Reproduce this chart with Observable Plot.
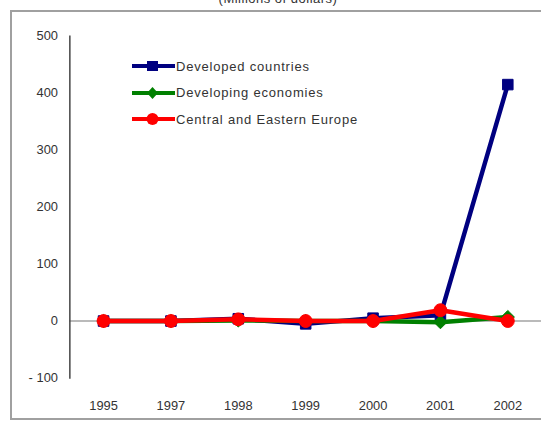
<!DOCTYPE html>
<html>
<head>
<meta charset="utf-8">
<script src="https://cdn.jsdelivr.net/npm/d3@7"></script>
<script src="https://cdn.jsdelivr.net/npm/@observablehq/plot@0.6"></script>
<style>
  html, body { margin: 0; padding: 0; background: #fff; overflow: hidden; }
  #wrap { position: relative; width: 541px; height: 421px; overflow: hidden; font-family: "Liberation Sans", Arial, sans-serif; }
  #subtitle { position: absolute; top: -8px; left: 0; width: 556px; text-align: center; font-size: 13px; line-height: 13px; color: #333; letter-spacing: 0.5px; }
  #border { position: absolute; left: 10px; top: 10px; width: 700px; height: 406px; border: 2px solid #a0a0a0; border-right: none; box-sizing: content-box; }
  #chart { position: absolute; left: 0; top: 0; }
  #legend { position: absolute; left: 131px; top: 53px; font-size: 13px; color: #333; letter-spacing: 0.8px; }
  #legend .row { display: flex; align-items: center; height: 26.5px; }
  #legend svg { margin-right: 1px; }
</style>
</head>
<body>
<div id="wrap">
  <div id="border"></div>
  <div id="subtitle">(Millions of dollars)</div>
  <div id="chart"></div>
  <div id="legend"></div>
</div>
<script>
// Inflows by region, millions of dollars
const years = ["1995", "1997", "1998", "1999", "2000", "2001", "2002"];
const developed = [0, 0, 4, -5, 5, 10, 415];
const developing = [0, 0, 1, 0, 0, -2, 7];
const centralEastern = [0, 0, 3, 0, 0, 19, 0];

const seriesNames = ["Developed countries", "Developing economies", "Central and Eastern Europe"];
const seriesValues = [developed, developing, centralEastern];
const seriesColors = ["#000080", "#008000", "#ff0000"];
const seriesSymbols = ["square", "diamond2", "circle"];
const yTicks = [-100, 0, 100, 200, 300, 400, 500];

const rows = seriesNames.flatMap((name, s) =>
  years.map((year, i) => ({ series: name, year, value: seriesValues[s][i] }))
);

const lineMarks = seriesNames.flatMap((name, s) => {
  const data = rows.filter(d => d.series === name);
  return [
    Plot.line(data, { x: "year", y: "value", stroke: seriesColors[s], strokeWidth: 4.5 }),
    Plot.dot(data, {
      x: "year", y: "value", symbol: () => seriesSymbols[s],
      fill: seriesColors[s], stroke: seriesColors[s],
      r: s === 2 ? 6.5 : 6, strokeWidth: 1
    })
  ];
});

const chart = Plot.plot({
  width: 546,
  height: 421,
  marginLeft: 70,
  marginRight: 0,
  marginTop: 36,
  marginBottom: 40,
  style: { fontFamily: "'Liberation Sans', Arial, sans-serif", fontSize: "13px", color: "#333", background: "transparent" },
  x: { type: "point", domain: years, padding: 0.5, label: null },
  y: { domain: [-100, 500], label: null },
  symbol: { type: "identity" },
  marks: [
    Plot.ruleY([0], { stroke: "#777", strokeWidth: 1.2 }),
    Plot.frame({ anchor: "left", stroke: "#444", strokeWidth: 1.5 }),
    Plot.axisY(yTicks, {
      tickSize: 0, tickPadding: 12,
      tickFormat: d => d < 0 ? "- " + Math.abs(d) : String(d)
    }),
    Plot.axisX({ tickSize: 0, tickPadding: 23, style: { letterSpacing: "2.4px" } }),
    ...lineMarks
  ]
});
document.getElementById("chart").appendChild(chart);

// Legend: line with marker, then series name
const legend = document.getElementById("legend");
seriesNames.forEach((name, s) => {
  const row = document.createElement("div");
  row.className = "row";
  const c = seriesColors[s];
  const marker = s === 0
    ? `<rect x="16" y="1" width="11" height="10" fill="${c}"/>`
    : s === 1
      ? `<path d="M21.5 0 L27 6 L21.5 12 L16 6 Z" fill="${c}"/>`
      : `<circle cx="21.5" cy="6" r="6" fill="${c}"/>`;
  row.innerHTML = `<svg width="44" height="12"><line x1="1" y1="6" x2="44" y2="6" stroke="${c}" stroke-width="4"/>${marker}</svg><span>${name}</span>`;
  legend.appendChild(row);
});
</script>
</body>
</html>
